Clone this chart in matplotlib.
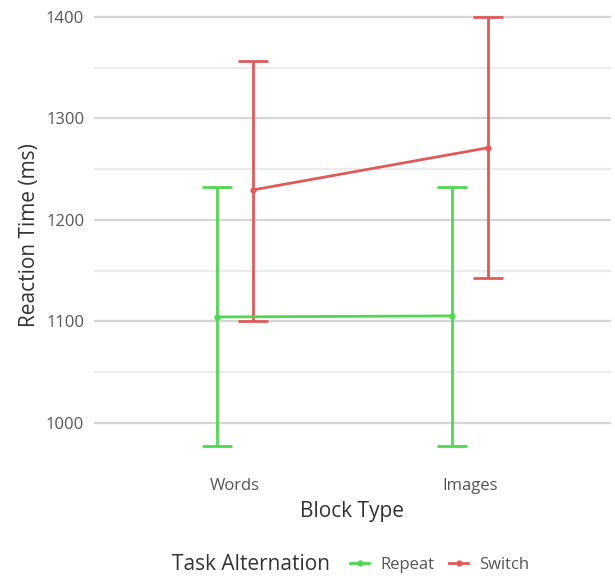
import numpy as np
import matplotlib.pyplot as plt
from matplotlib.lines import Line2D

plt.rcParams['font.family'] = ['Open Sans', 'DejaVu Sans']

# reaction time means and error bar limits per block type
blocks = ["Words", "Images"]
groups = ["Repeat", "Switch"]
colors = {"Repeat": "#4fd84f", "Switch": "#e05a5a"}
means = {"Repeat": [1104.5, 1105.5], "Switch": [1229.5, 1271.0]}
lower = {"Repeat": [977.0, 977.5], "Switch": [1100.5, 1143.0]}
upper = {"Repeat": [1232.5, 1232.5], "Switch": [1356.5, 1400.0]}
dodge = {"Repeat": -0.075, "Switch": 0.075}

fig = plt.figure(figsize=(6.15, 5.78), dpi=100)
ax = fig.add_axes([94 / 615, 0.189, (611 - 94) / 615, 0.81])

x = np.arange(1, len(blocks) + 1)
for g in groups:
    xs = x + dodge[g]
    m = np.array(means[g])
    yerr = [m - np.array(lower[g]), np.array(upper[g]) - m]
    ax.errorbar(xs, m, yerr=yerr, color=colors[g], lw=2, capsize=11,
                capthick=2, marker='o', ms=3.5, zorder=3)

ax.set_xlim(0.4, 2.6)
ax.set_ylim(955, 1416)
ax.set_xticks(x)
ax.set_xticklabels(blocks)
ax.set_yticks(np.arange(1000, 1401, 100))
ax.set_yticks(np.arange(1050, 1400, 100), minor=True)
ax.tick_params(axis='both', which='both', length=0, labelsize=12,
               labelcolor='#555555')
ax.tick_params(axis='x', pad=7)
ax.tick_params(axis='y', pad=7)
ax.grid(axis='y', which='major', color='#d6d6d6', lw=1.6)
ax.grid(axis='y', which='minor', color='#ebebeb', lw=1.6)
ax.set_axisbelow(True)
for s in ax.spines.values():
    s.set_visible(False)

ax.set_xlabel("Block Type", fontsize=15, color='#333333', labelpad=5)
ax.set_ylabel("Reaction Time (ms)", fontsize=15, color='#333333', labelpad=4)

fig.text(172 / 615, 1 - 565 / 578, "Task Alternation", fontsize=15,
         color='#333333', va='center', ha='left')
handles = [Line2D([], [], color=colors[g], lw=2, marker='o', ms=3.5)
           for g in groups]
fig.legend(handles, groups, loc='center', bbox_to_anchor=(440 / 615, 1 - 565 / 578),
           ncol=2, frameon=False, fontsize=12, handlelength=1.1,
           handletextpad=0.7, columnspacing=0.9, labelcolor='#555555')

fig.savefig("out.png", dpi=100)
